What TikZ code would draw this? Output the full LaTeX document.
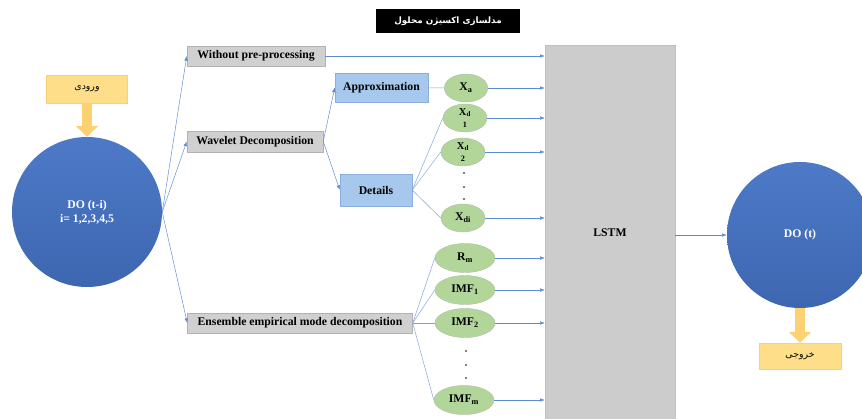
\documentclass[tikz,border=0pt]{standalone}
\usepackage{fontspec}
\setmainfont{Liberation Serif}
\newfontfamily\farsi[Script=Arabic]{DejaVu Sans}
\TeXXeTstate=1
\usetikzlibrary{arrows.meta, positioning, shapes.geometric}

\definecolor{linkblue}{HTML}{5B8BD0}
\definecolor{circblue}{HTML}{4472C4}
\definecolor{boxgray}{HTML}{D0D0D0}
\definecolor{lightblue}{HTML}{A6C8EC}
\definecolor{leafgreen}{HTML}{B2D69A}
\definecolor{noteyellow}{HTML}{FFDE8A}
\definecolor{arrowyellow}{HTML}{FCD171}

\begin{document}
\begin{tikzpicture}[
    x=0.03cm, y=-0.03cm,
    txt/.style={font=\bfseries\fontsize{10}{11}\selectfont},
    graybox/.style={txt, draw=black!30, fill=boxgray, inner sep=1pt},
    bluebox/.style={txt, draw=linkblue!70, fill=lightblue, inner sep=1pt},
    leaf/.style={txt, ellipse, draw=leafgreen!70!black!60, fill=leafgreen, inner sep=0pt, align=center},
    disc/.style={circle, draw=none, top color=circblue!95!white, bottom color=circblue!90!black,
        text=white, font=\bfseries\fontsize{10}{12}\selectfont, align=center},
    note/.style={draw=arrowyellow, fill=noteyellow, font=\farsi\fontsize{8}{9}\selectfont},
    link/.style={draw=linkblue, -{Latex[length=4pt,width=3pt]}},
    tie/.style={draw=linkblue!80},
    fat/.style={draw=arrowyellow, line width=9pt, -{Triangle[length=9pt,width=18pt]}}
]
    \clip (0,0) rectangle (862,419);

    % title
    \node[fill=black, text=white, font=\farsi\bfseries\fontsize{7.5}{8}\selectfont,
        minimum width=4.32cm, minimum height=0.69cm] (title) at (448,21) {\beginR مدلسازی اکسیژن محلول\endR};

    % input and output
    \node[note, minimum width=2.43cm, minimum height=0.84cm] (inp) at (87,89) {\beginR ورودی\endR};
    \node[disc, minimum size=4.5cm] (din) at (87,212) {DO (t-i)\\i= 1,2,3,4,5};
    \node[disc, minimum size=4.38cm] (dout) at (800,235) {DO (t)};
    \node[note, minimum width=2.46cm, minimum height=0.78cm] (outp) at (800,356) {\beginR خروجی\endR};

    % methods
    \node[graybox, minimum width=4.14cm, minimum height=0.6cm] (wpp) at (256,56) {Without pre-processing};
    \node[graybox, minimum width=4.08cm, minimum height=0.63cm] (wd) at (255,141.5) {Wavelet Decomposition};
    \node[graybox, minimum width=6.75cm, minimum height=0.6cm] (eemd) at (300,323) {Ensemble empirical mode decomposition};
    \node[bluebox, minimum width=2.79cm, minimum height=0.87cm] (approx) at (381.5,87.5) {Approximation};
    \node[bluebox, minimum width=2.16cm, minimum height=0.96cm] (det) at (376,190) {Details};

    % components
    \node[leaf, minimum width=1.3cm, minimum height=0.84cm] (xa) at (466,88) {X\textsubscript{a}};
    \node[leaf, minimum width=1.32cm, minimum height=0.84cm, font=\bfseries\fontsize{9}{8}\selectfont] (xd1) at (465,118) {X\textsubscript{d}\\[2pt]{\fontsize{7}{7}\selectfont 1}};
    \node[leaf, minimum width=1.32cm, minimum height=0.84cm, font=\bfseries\fontsize{9}{8}\selectfont] (xd2) at (463,152) {X\textsubscript{d}\\[2pt]{\fontsize{7}{7}\selectfont 2}};
    \node[leaf, minimum width=1.32cm, minimum height=0.84cm] (xdi) at (463,218) {X\textsubscript{di}};
    \node[leaf, minimum width=1.8cm, minimum height=0.87cm] (rm) at (465,258) {R\textsubscript{m}};
    \node[leaf, minimum width=1.8cm, minimum height=0.87cm] (imf1) at (465,290) {IMF\textsubscript{1}};
    \node[leaf, minimum width=1.8cm, minimum height=0.87cm] (imf2) at (465,323) {IMF\textsubscript{2}};
    \node[leaf, minimum width=1.8cm, minimum height=0.87cm] (imfm) at (464,400) {IMF\textsubscript{m}};

    \foreach \y in {173,187,199} \fill (464,\y) circle (0.7pt);
    \foreach \y in {351,365,378} \fill (466,\y) circle (0.7pt);

    % model
    \node[txt, draw=black!25, fill=black!20, minimum width=3.9cm, minimum height=11.55cm] (lstm) at (610,237.5) {};
    \node[txt] (lstmtxt) at (610,233) {LSTM};

    % connectors
    \draw[fat] (inp.south) -- (din.north);
    \draw[fat] (dout.south) -- (outp.north);
    \foreach \m in {wpp, wd, eemd} \draw[link] (din.east) -- (\m.west);
    \draw[link] (wd.east) -- (approx.west);
    \draw[link] (wd.east) -- (det.west);
    \draw[tie] (approx) -- (xa);
    \foreach \c in {xd1, xd2, xdi} \draw[tie] (det.east) -- (\c.west);
    \foreach \c in {rm, imf1, imf2, imfm} \draw[tie] (eemd.east) -- (\c.west);
    \foreach \c in {wpp, xa, xd1, xd2, xdi, rm, imf1, imf2, imfm}
        \draw[link] (\c.east) -- (\c.east -| lstm.west);
    \draw[link] (dout.west -| lstm.east) -- (dout.west);
\end{tikzpicture}
\end{document}
